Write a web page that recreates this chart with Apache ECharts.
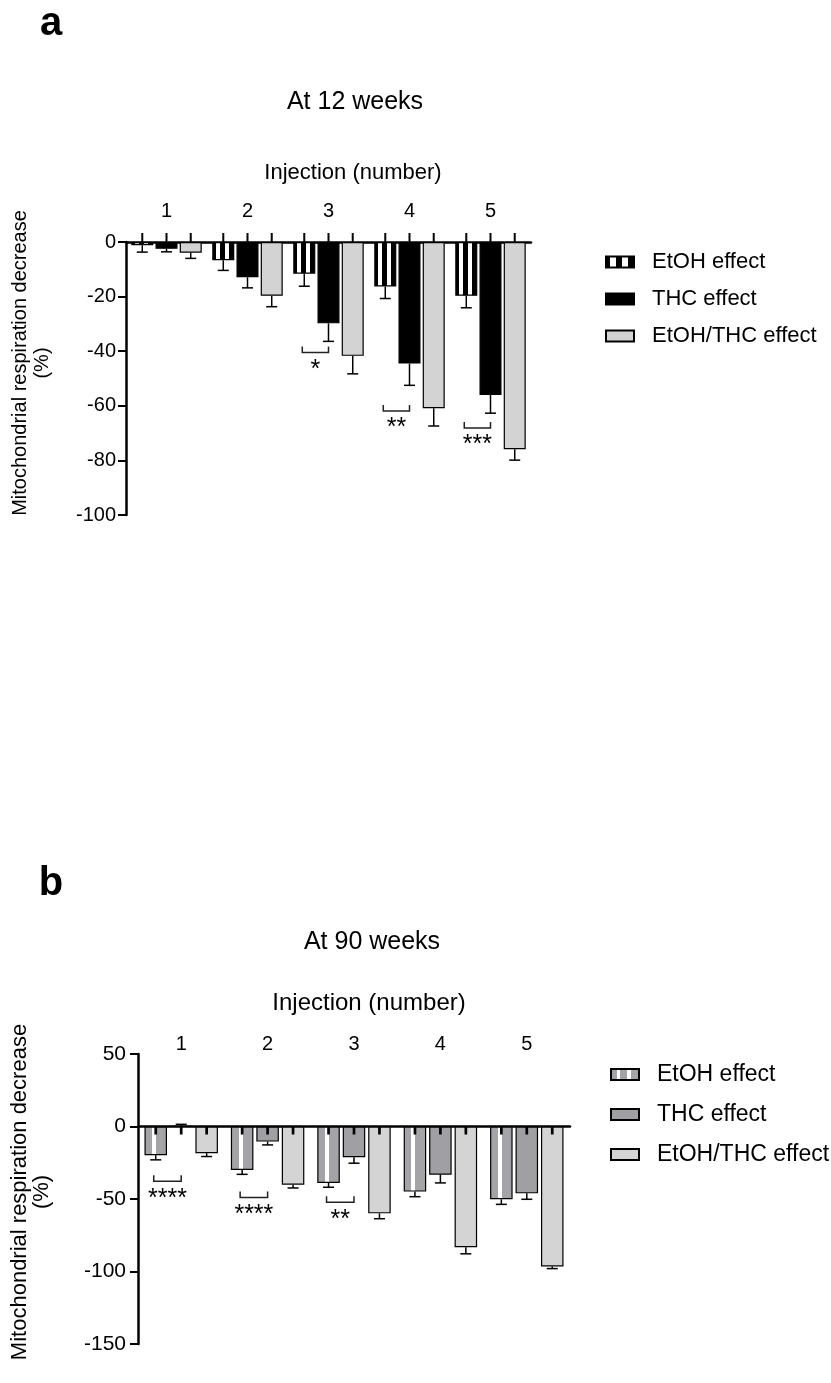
<!DOCTYPE html>
<html>
<head>
<meta charset="utf-8">
<script src="https://cdn.jsdelivr.net/npm/echarts@6/dist/echarts.min.js"></script>
<style>
body { margin: 0; background: #fff; }
#chartA { position: absolute; left: 0; top: 0; width: 831px; height: 700px; }
#chartB { position: absolute; left: 0; top: 700px; width: 831px; height: 683px; }
</style>
</head>
<body>
<div id="chartA"></div>
<div id="chartB"></div>
<script>
const injections = ['1', '2', '3', '4', '5'];
const seriesNames = ['EtOH effect', 'THC effect', 'EtOH/THC effect'];

// a: at 12 weeks (mean and error, %)
const etoh12 = [-1.2, -6.7, -11.6, -16.3, -19.7];
const etoh12Err = [2.5, 3.7, 4.6, 4.4, 4.4];
const thc12 = [-2.5, -12.9, -29.8, -44.5, -56.0];
const thc12Err = [1.1, 3.9, 6.6, 8.0, 6.7];
const combo12 = [-3.9, -19.7, -41.7, -60.9, -75.9];
const combo12Err = [2.1, 4.0, 6.6, 6.5, 4.0];
const sigGroups12 = [2, 3, 4];
const sigLevels12 = [-40.5, -61.9, -68.1];
const sigLabels12 = ['*', '**', '***'];

// b: at 90 weeks
const etoh90 = [-19.8, -30.0, -38.9, -44.9, -50.2];
const etoh90Err = [3.2, 3.0, 3.0, 3.5, 3.5];
const thc90 = [0.3, -10.4, -21.2, -33.2, -46.1];
const thc90Err = [1.2, 2.3, 4.1, 5.7, 4.1];
const combo90 = [-18.4, -40.1, -59.9, -83.2, -96.5];
const combo90Err = [2.3, 2.3, 3.7, 4.6, 1.5];
const sigGroups90 = [0, 1, 2];
const sigLevels90 = [-37.8, -48.9, -52.3];
const sigLabels90 = ['****', '****', '**'];

const FONT = 'Liberation Sans';

// hard-edged vertical stripes
function stripes(base, light, cuts) {
  const stops = [];
  let pos = 0;
  cuts.forEach(([a, b]) => {
    stops.push({ offset: pos, color: base }, { offset: a, color: base },
               { offset: a, color: light }, { offset: b, color: light });
    pos = b;
  });
  stops.push({ offset: pos, color: base }, { offset: 1, color: base });
  return new echarts.graphic.LinearGradient(0, 0, 1, 0, stops);
}

// centre of bar `slot` inside category `cat`, same maths as the bar layout
function slotCenter(api, cat, slot, cfg) {
  const band = api.size([1, 0])[0];
  const center = api.coord([cat, 0])[0];
  const n = 3;
  const w = band * (1 - cfg.catGap) / (n + (n - 1) * cfg.barGap);
  const sum = n * w + (n - 1) * w * cfg.barGap;
  return center - sum / 2 + slot * w * (1 + cfg.barGap) + w / 2;
}

function buildOption(cfg) {
  const barSeries = cfg.values.map((vals, k) => ({
    name: seriesNames[k],
    type: 'bar',
    data: vals,
    barGap: (cfg.barGap * 100) + '%',
    barCategoryGap: (cfg.catGap * 100) + '%',
    itemStyle: { color: cfg.colors[k], borderColor: '#000', borderWidth: 1.2 },
    emphasis: { disabled: true },
    z: 2
  }));

  const errSeries = cfg.values.map((vals, k) => ({
    type: 'custom',
    data: vals.map((v, i) => [i, v, cfg.errors[k][i]]),
    encode: { x: 0, y: 1 },
    z: 4,
    silent: true,
    renderItem: (params, api) => {
      const cat = api.value(0), val = api.value(1), err = api.value(2);
      const x = slotCenter(api, cat, k, cfg);
      const yEnd = api.coord([cat, val])[1];
      const yErr = api.coord([cat, val < 0 ? val - err : val + err])[1];
      const y0 = api.coord([cat, 0])[1];
      const line = { stroke: '#000', lineWidth: 1.5 };
      return {
        type: 'group',
        children: [
          { type: 'line', shape: { x1: x, y1: yEnd, x2: x, y2: yErr }, style: line },
          { type: 'line', shape: { x1: x - 5.5, y1: yErr, x2: x + 5.5, y2: yErr }, style: line },
          { type: 'line', shape: { x1: x, y1: y0, x2: x, y2: y0 + cfg.tickDir * cfg.tickLen },
            style: { stroke: '#000', lineWidth: cfg.tickWidth } }
        ]
      };
    }
  }));

  const sigSeries = {
    type: 'custom',
    data: cfg.sigGroups.map((g, i) => [g, cfg.sigLevels[i]]),
    encode: { x: 0, y: 1 },
    z: 4,
    silent: true,
    renderItem: (params, api) => {
      const cat = api.value(0);
      const xL = slotCenter(api, cat, 0, cfg) - 2;
      const xR = slotCenter(api, cat, 1, cfg);
      const y = api.coord([cat, api.value(1)])[1];
      return {
        type: 'group',
        children: [
          { type: 'polyline', shape: { points: [[xL, y - 6], [xL, y], [xR, y], [xR, y - 6]] },
            style: { stroke: '#222', lineWidth: 1.5, fill: 'none' } },
          { type: 'text', x: (xL + xR) / 2, y: y + cfg.starGap,
            style: { text: cfg.sigLabels[params.dataIndex], textAlign: 'center', textVerticalAlign: 'top',
                     font: '25px ' + FONT, fill: '#000' } }
        ]
      };
    }
  };

  const legendData = seriesNames.map((name, k) =>
    cfg.legendStyles[k] ? { name: name, itemStyle: cfg.legendStyles[k] } : name);

  return {
    animation: false,
    textStyle: { fontFamily: FONT },
    grid: cfg.grid,
    legend: {
      orient: 'vertical',
      left: cfg.legend.left,
      top: cfg.legend.top,
      itemWidth: 28,
      itemHeight: 11,
      itemGap: cfg.legend.gap,
      icon: 'rect',
      selectedMode: false,
      textStyle: { fontSize: cfg.legend.fontSize, color: '#000', fontFamily: FONT, padding: [0, 0, 0, 13] },
      data: legendData
    },
    graphic: [
      { type: 'text', x: cfg.letter.x, y: cfg.letter.y,
        style: { text: cfg.letter.text, font: 'bold 40px ' + FONT, fill: '#000', textAlign: 'center', textVerticalAlign: 'middle' } },
      { type: 'text', x: cfg.title.x, y: cfg.title.y,
        style: { text: cfg.title.text, font: '25px ' + FONT, fill: '#000', textAlign: 'center', textVerticalAlign: 'middle' } },
      { type: 'text', x: cfg.xName.x, y: cfg.xName.y,
        style: { text: 'Injection (number)', font: cfg.xName.size + 'px ' + FONT, fill: '#000', textAlign: 'center', textVerticalAlign: 'middle' } },
      { type: 'text', x: cfg.yName.x, y: cfg.yName.y, rotation: Math.PI / 2,
        style: { text: 'Mitochondrial respiration decrease\n(%)', font: cfg.yName.size + 'px ' + FONT,
                 lineHeight: 22, fill: '#000', textAlign: 'center', textVerticalAlign: 'middle' } }
    ],
    xAxis: [
      {
        type: 'category',
        data: injections,
        position: 'top',
        axisLine: { show: false, onZero: false },
        axisTick: { show: false },
        axisLabel: { fontSize: 20, color: '#000', margin: cfg.catLabelMargin }
      },
      {
        type: 'category',
        data: injections,
        position: 'bottom',
        axisLine: { show: true, onZero: true, lineStyle: { color: '#000', width: 2.5 } },
        axisTick: { show: false },
        axisLabel: { show: false }
      }
    ],
    yAxis: {
      type: 'value',
      min: cfg.yMin,
      max: cfg.yMax,
      interval: cfg.yStep,
      axisLine: { show: true, lineStyle: { color: '#000', width: 2.5 } },
      axisTick: { show: true, length: 8, lineStyle: { color: '#000', width: 2 } },
      axisLabel: { fontSize: cfg.yLabelSize, color: '#000', margin: cfg.yLabelMargin },
      splitLine: { show: false }
    },
    series: [...barSeries, ...errSeries, sigSeries]
  };
}

// a: At 12 weeks
const chartA = echarts.init(document.getElementById('chartA'));
chartA.setOption(buildOption({
  grid: { left: 126, top: 242, width: 405, height: 273 },
  yMin: -100, yMax: 0, yStep: 20,
  values: [etoh12, thc12, combo12],
  errors: [etoh12Err, thc12Err, combo12Err],
  colors: [stripes('#000', '#fff', [[0.16, 0.36], [0.56, 0.78]]), '#000', '#d3d3d3'],
  legendStyles: [null, null, null],
  catGap: 0.13, barGap: 0.10,
  tickDir: -1, tickLen: 9, tickWidth: 2,
  sigGroups: sigGroups12, sigLevels: sigLevels12, sigLabels: sigLabels12, starGap: 5,
  catLabelMargin: 21, yLabelSize: 20, yLabelMargin: 10,
  legend: { left: 600, top: 246, gap: 15, fontSize: 22 },
  letter: { text: 'a', x: 51, y: 24 },
  title: { text: 'At 12 weeks', x: 355, y: 102 },
  xName: { x: 353, y: 173, size: 22 },
  yName: { x: 31, y: 363, size: 20 }
}));

// b: At 90 weeks
const chartB = echarts.init(document.getElementById('chartB'));
chartB.setOption(buildOption({
  grid: { left: 138, top: 354, width: 432, height: 290 },
  yMin: -150, yMax: 50, yStep: 50,
  values: [etoh90, thc90, combo90],
  errors: [etoh90Err, thc90Err, combo90Err],
  colors: [stripes('#a4a4a8', '#fff', [[0.34, 0.52]]), '#a0a0a4', '#d4d4d4'],
  legendStyles: [{ color: stripes('#a4a4a8', '#fff', [[0.22, 0.34], [0.57, 0.69]]) }, null, null],
  catGap: 0.15, barGap: 0.13,
  tickDir: 1, tickLen: 8, tickWidth: 2.7,
  sigGroups: sigGroups90, sigLevels: sigLevels90, sigLabels: sigLabels90, starGap: 5,
  catLabelMargin: 0, yLabelSize: 21, yLabelMargin: 12,
  legend: { left: 605, top: 358, gap: 17, fontSize: 23 },
  letter: { text: 'b', x: 51, y: 184 },
  title: { text: 'At 90 weeks', x: 372, y: 242 },
  xName: { x: 369, y: 303, size: 24 },
  yName: { x: 31, y: 492, size: 22 }
}));
</script>
</body>
</html>
